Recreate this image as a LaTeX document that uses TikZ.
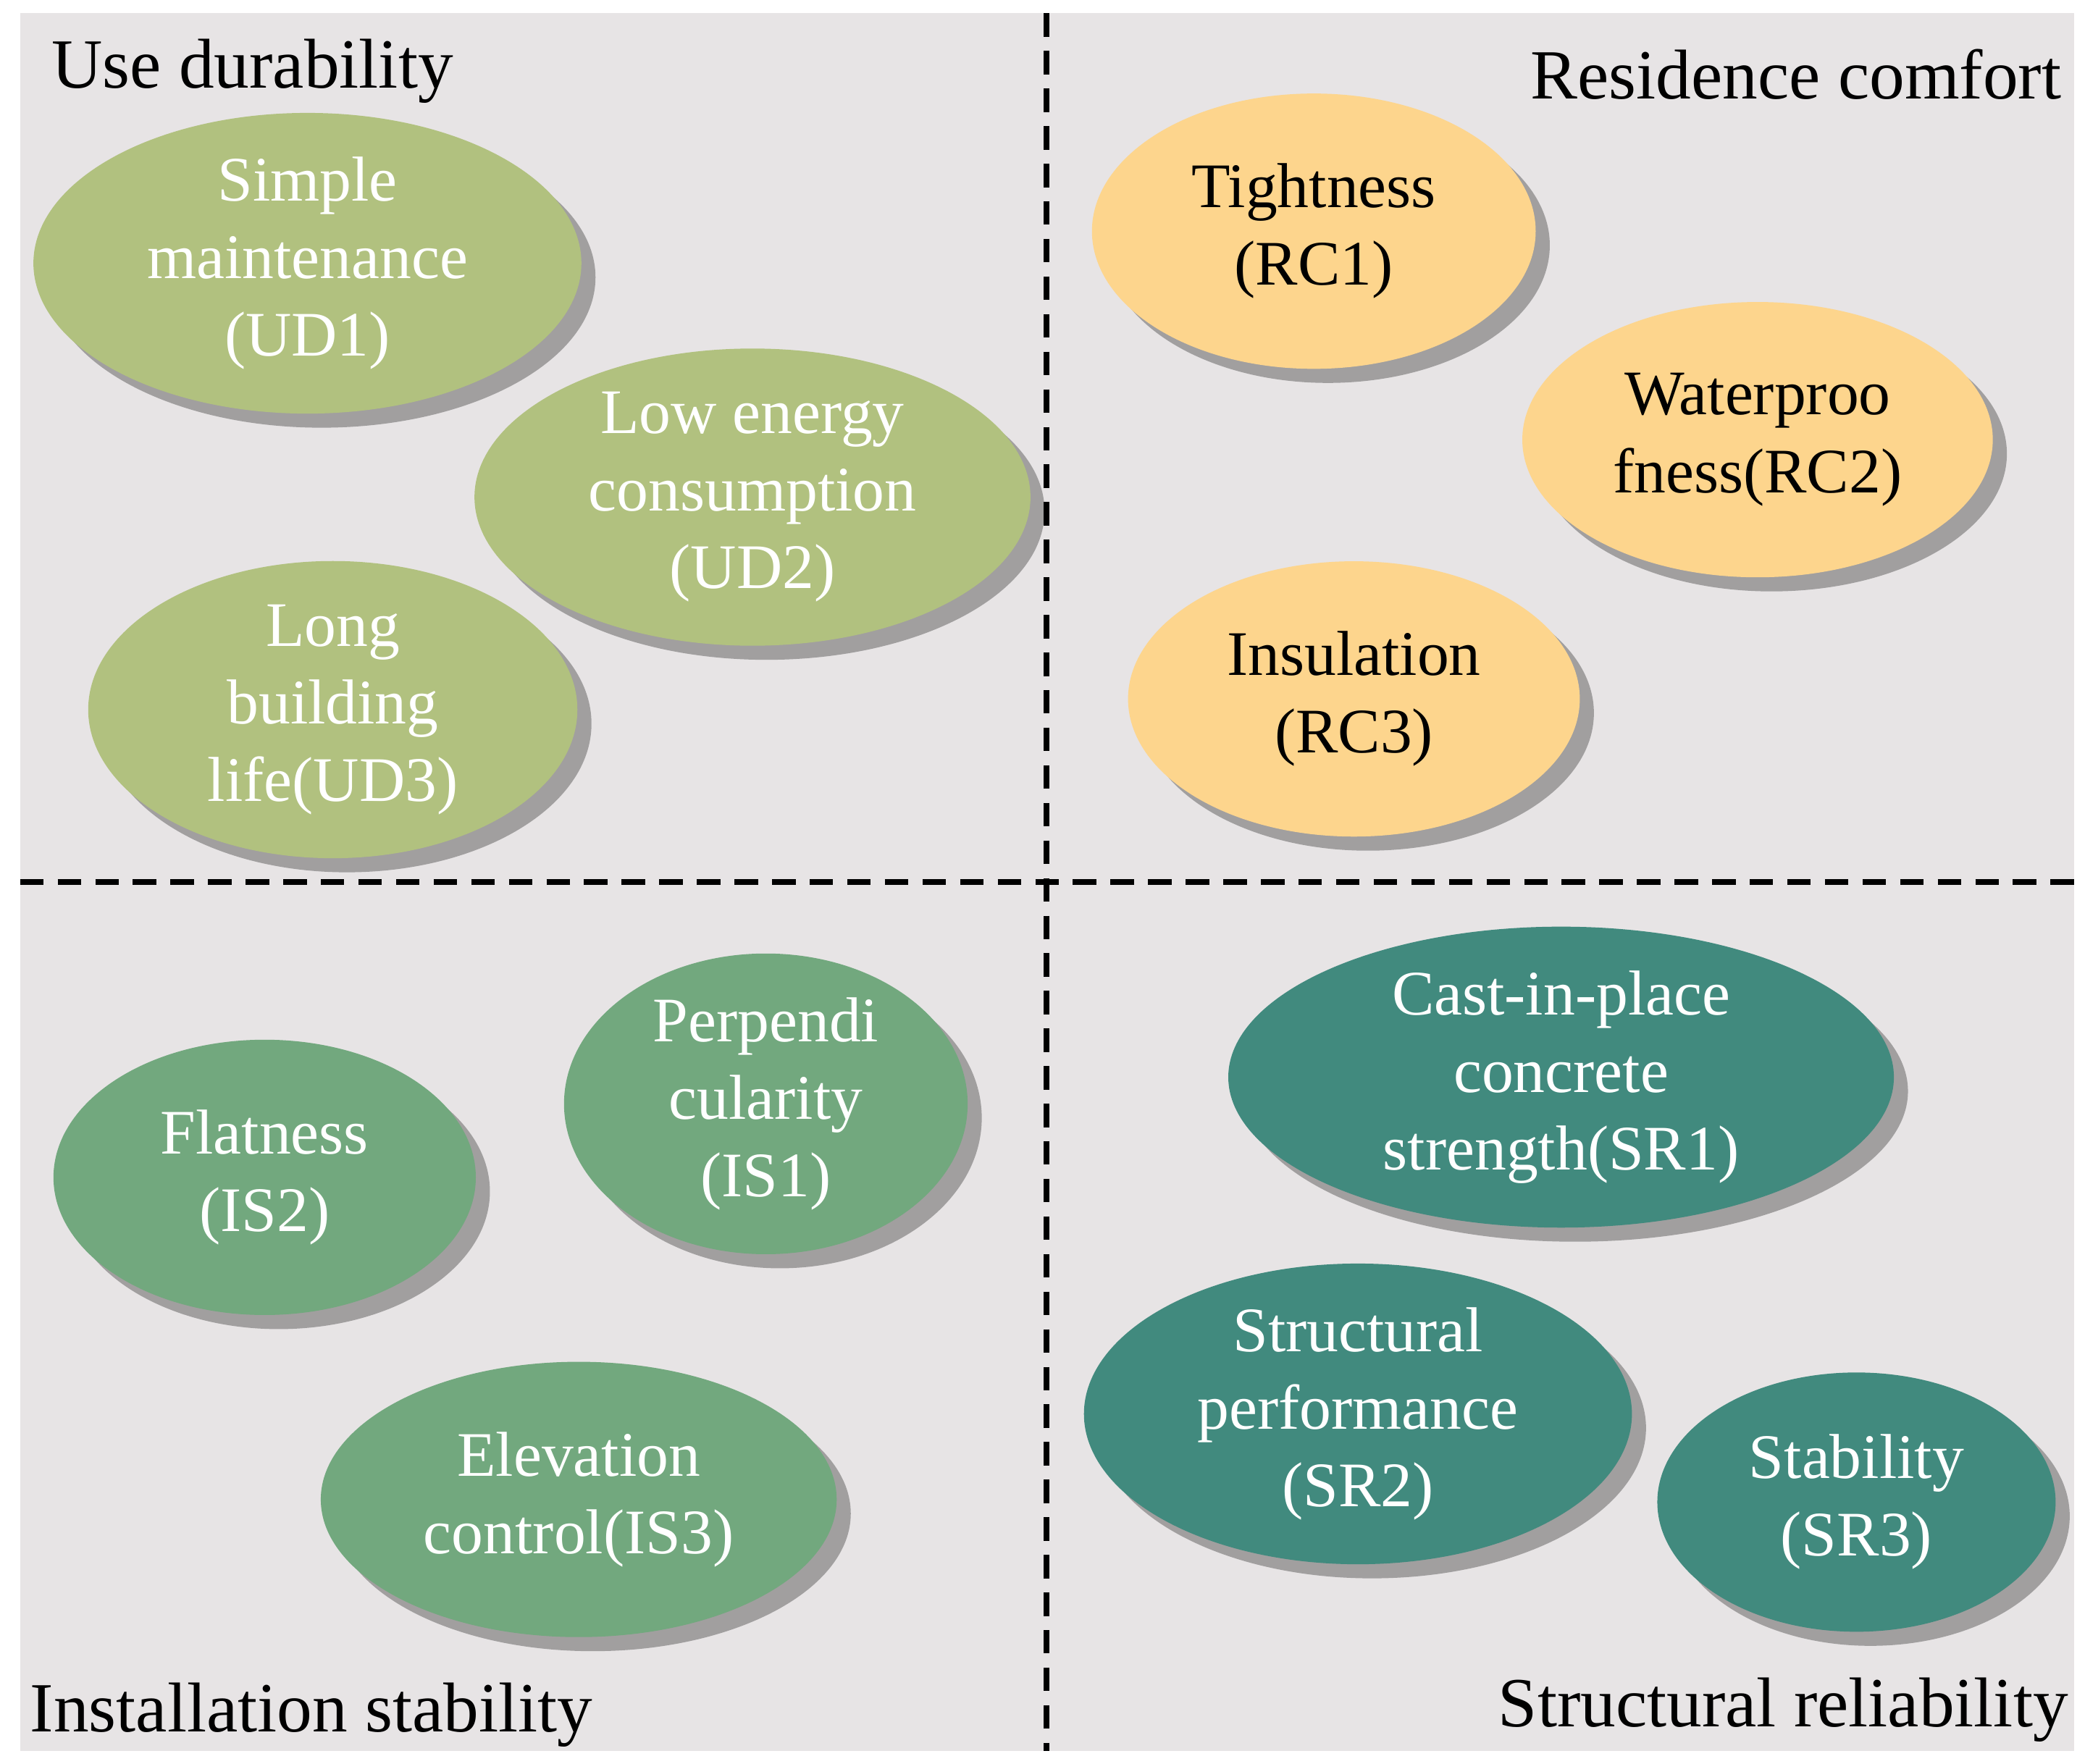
\documentclass[tikz,border=0pt]{standalone}
\usepackage{fontspec}
\setmainfont{Liberation Serif}
\usetikzlibrary{shapes.geometric,shadows}
\definecolor{bg}{HTML}{E7E4E5}
\definecolor{ud}{HTML}{B1C17F}
\definecolor{rc}{HTML}{FDD58D}
\definecolor{is}{HTML}{72A87E}
\definecolor{sr}{HTML}{418A7E}
\begin{document}
\begin{tikzpicture}[x=0.01cm,y=-0.01cm,
  el/.style 2 args={ellipse,inner sep=0pt,align=center,font=\fontsize{13.5}{16.5}\selectfont,
    minimum width=#1*0.01cm,minimum height=#2*0.01cm,
    drop shadow={shadow xshift=3pt,shadow yshift=-3pt,opacity=0.3,fill=black}},
  ttl/.style={font=\fontsize{15}{18}\selectfont,inner sep=0pt},
  div/.style={line width=1.2pt,dash pattern=on 5pt off 3pt}]
\useasboundingbox (0,0) rectangle (1560,1319.5);
\fill[white] (0,0) rectangle (1560,1319.5);
\fill[bg] (15,10) rectangle (1552,1310);
\coordinate (vt) at (783,10); \coordinate (vb) at (783,1310);
\coordinate (hl) at (15,660); \coordinate (hr) at (1552,660);
\draw[div] (vt) -- (vb);
\draw[div] (hl) -- (hr);
\node[ttl,anchor=base west] (t1) at (38,66) {Use durability};
\node[ttl,anchor=base east] (t2) at (1543,74) {Residence comfort};
\node[ttl,anchor=base west] (t3) at (22,1296) {Installation stability};
\node[ttl,anchor=base east] (t4) at (1548,1292) {Structural reliability};
\node[el={410}{206},fill=ud,text=white] (ud1) at (230,197) {Simple\\maintenance\\(UD1)};
\node[el={416}{206},fill=ud,text=white] (ud2) at (563,372) {Low energy\\consumption\\(UD2)};
\node[el={366}{206},fill=ud,text=white] (ud3) at (249,531) {Long\\building\\life(UD3)};
\node[el={332}{206},fill=rc] (rc1) at (983,173) {Tightness\\(RC1)};
\node[el={352}{206},fill=rc] (rc2) at (1315,329) {Waterproo\\fness(RC2)};
\node[el={338}{206},fill=rc] (rc3) at (1013,523) {Insulation\\(RC3)};
\node[el={302}{206},fill=is,text=white] (is1) at (573,826) {Perpendi\\cularity\\(IS1)};
\node[el={316}{206},fill=is,text=white] (is2) at (198,881) {Flatness\\(IS2)};
\node[el={386}{206},fill=is,text=white] (is3) at (433,1122) {Elevation\\control(IS3)};
\node[el={498}{206},fill=sr,text=white] (sr1) at (1168,806) {Cast-in-place\\concrete\\strength(SR1)};
\node[el={410}{206},fill=sr,text=white] (sr2) at (1016,1058) {Structural\\performance\\(SR2)};
\node[el={298}{194},fill=sr,text=white] (sr3) at (1389,1124) {Stability\\(SR3)};
\end{tikzpicture}
\end{document}
